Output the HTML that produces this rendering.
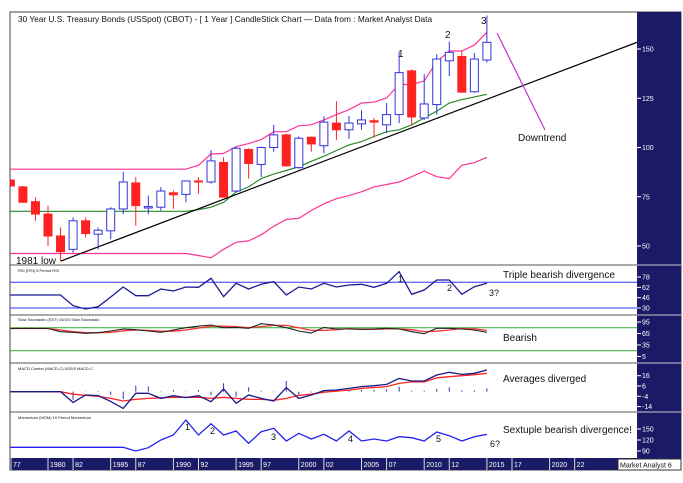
<!DOCTYPE html>
<html><head><meta charset="utf-8"><style>
html,body{margin:0;padding:0;background:#fff;}
svg{display:block;font-family:"Liberation Sans",sans-serif;}
</style></head><body>
<svg id="c" width="683" height="483" viewBox="0 0 683 483">
<rect x="10" y="12" width="671" height="458" fill="#fff" stroke="#444" stroke-width="1"/>
<rect x="637" y="12" width="44" height="446" fill="#1a1a66"/>
<rect x="10" y="458" width="671" height="12" fill="#1a1a66"/>
<g id="g"></g>
</svg>
<script>
const years=[1977,1978,1979,1980,1981,1982,1983,1984,1985,1986,1987,1988,1989,1990,1991,1992,1993,1994,1995,1996,1997,1998,1999,2000,2001,2002,2003,2004,2005,2006,2007,2008,2009,2010,2011,2012,2013,2014,2015];
const opens=[83.5,80,72.5,66.2,55.1,48.3,62.8,56,57.7,68.8,82,69.3,69.7,77,76.2,83,82.5,92.4,77.9,99,91.4,100,106.4,89.8,105.2,100.9,112.4,109,112,113.6,111.5,116.7,138.9,115,121.8,144,146.2,128.3,144.4];
const closes=[80.5,72.2,66.2,55.1,47.1,62.8,56.3,58,68.8,82.5,70.5,70,77.9,76,83,82.5,93.2,74.8,99.6,91.9,100,106.4,90.7,104.7,101.8,112.9,109,112.4,114,112.9,116.7,138,115.5,122.1,144.9,148.3,128.1,144.9,153.4];
const highs=[84,80.5,74.8,70.5,59.4,64.5,64.5,59.4,69.7,87.6,85,75.6,79.9,78.2,83.3,85,98.7,95,100.4,99.6,100.4,111.5,107,105.6,105.6,115.8,123.5,116,119,115,122.6,148.3,139.7,137.2,147.4,153.8,149.1,148,167];
const lows=[80,72,62.8,50,42.3,46.6,54.3,48.3,53.4,66.2,60.3,66.2,68,68.8,72.2,76.5,81.6,74.8,77.4,84.2,85,97.9,90.2,89.2,97.9,97,103.8,104.5,109,105,107.3,112.4,111.5,114,116.7,136.3,127.8,127.8,143.2];
const upperBand=[89,89,89,89,89,89,89,89,89,89,89,89,89,89,89,91,96.7,97,100.4,102,104,108,108,111,111.5,114,116.7,119.2,122.6,123,125.2,132,132,133.8,143.5,149,149,152,158.5];
const lowerBand=[46.2,46.2,46.2,46.2,46.2,46.2,46.2,46.2,46.2,46.2,46.2,46.2,46.2,46.2,46.2,45.2,44,48.3,51.9,52.6,55.7,60,63.5,64,68,71.4,74,75.6,77.5,80,81.2,82.5,85.2,88,85.2,84.2,91,92.3,95];
const maLine=[67.6,67.6,67.6,67.6,67.6,67.6,67.6,67.6,67.6,67.6,67.6,67.6,67.6,67.6,67.6,68.5,69.7,72.2,77.4,80,84.2,86.5,88.3,90.2,93,95.6,98.5,101.3,103,105.6,108,109,111.5,115,118.5,122.6,124.3,125.7,127];
const rsi=[50.2,50.2,50.2,50.2,50.2,33.6,28.4,32,47,62.6,49.1,49.1,59.5,56.4,62.6,62.1,76,47.6,68.3,59.5,66.7,71,50.2,62.6,59.5,68.3,62.6,65.7,66.7,62.1,68.3,86.3,51.2,57.9,73.4,73.4,51.2,63,68.3];
const stochK=[78,78,78,78,69.8,68,65.4,67,71.5,76.7,75,71.5,68,74,80.2,84,87.2,80.2,81,78.5,90.6,87.2,80.2,71.5,66.3,81,76.7,76.7,75.9,76.7,78.5,76.7,69.8,64.5,78.5,78.5,76.7,74,68];
const stochD=[78,78,78,78,74,70,67,67,68,72,74,73,71,71,74,79,84,84,83,80,83,86,86,80,73,73,75,78,76,76,77,77,75,70,71,74,78,77,73];
const macd=[0.5,0.5,0.5,0.5,0.5,-9.9,-2.7,-3.4,-9,-15.7,-1.1,-1.1,-6,-3.4,-5.3,-3.4,-9.2,3.1,-10.8,-2.7,-6,-8.6,4.4,-6,-2.7,1.5,2.1,3.7,5.4,6.3,7.6,13.4,10.9,10.9,16.7,19.3,17.3,18.3,21.5];
const macdSignal=[0.5,0.5,0.5,0.5,0.5,-2,-3,-4,-6,-8.6,-7,-6,-5.5,-5,-5,-5,-6,-5,-6,-7,-7,-8,-6,-3.1,-2,0,1,2,3.7,4.5,5.4,8.5,10,10,14,15,16,17,18.3];
const momentum=[100,100,100,100,100,100,100,100,100,100,90,99.1,120,133.6,174.5,133.6,164.5,133.6,144.5,111,142.7,151.8,117.3,138.2,122.7,135.4,117.3,144.5,117.3,122.7,117.3,129,126.4,117.3,141.8,131.8,117.3,129,135.4];
const priceTicks=[150,125,100,75,50];
const rsiTicks=[78,62,46,30];
const stochTicks=[95,65,35,5];
const macdTicks=[16,6,-4,-14];
const momTicks=[150,120,90];
const xLabels=[["77",1977],["1980",1980],["82",1982],["1985",1985],["87",1987],["1990",1990],["92",1992],["1995",1995],["97",1997],["2000",2000],["02",2002],["2005",2005],["07",2007],["2010",2010],["12",2012],["2015",2015],["17",2017],["2020",2020],["22",2022]];

const NS="http://www.w3.org/2000/svg";
const G=document.getElementById('g');
function mk(tag,at,par){const e=document.createElementNS(NS,tag);for(const k in at)e.setAttribute(k,at[k]);(par||G).appendChild(e);return e;}
const X=y=>48+(y-1980)*12.54;
const YP=v=>49+(150-v)*1.97;
const YR=v=>308-(v-30)*0.645;
const YS=v=>322+(95-v)*0.383;
const YM=v=>386-(v-6)*1.03;
const YO=v=>440-(v-120)*0.367;
function clipRect(id,y0,y1){const d=mk('clipPath',{id:id});mk('rect',{x:10,y:y0,width:627,height:y1-y0},d);}
clipRect('cp',12,265);clipRect('cr',265,315);clipRect('cs',315,363);clipRect('cm',363,412);clipRect('co',412,458);
function line(arr,fy,col,w,clip,name){const p=arr.map((v,i)=>X(years[i]).toFixed(1)+','+fy(v).toFixed(1)).join(' ');
 const e=mk('polyline',{points:p,fill:'none',stroke:col,'stroke-width':w,'clip-path':'url(#'+clip+')'});
 
 return e;}
function txt(s,x,y,sz,col,name,extra){const t=mk('text',Object.assign({x:x,y:y,'font-size':sz,fill:col},extra||{}));t.textContent=s;
 
 return t;}

[265,315,363,412].forEach(y=>{const l=mk('line',{x1:10,x2:681,y1:y,y2:y,stroke:'#555','stroke-width':1});
 
 });

line(upperBand,YP,'#ff3399',1.2,'cp','upper-band');
line(lowerBand,YP,'#ff3399',1.2,'cp','lower-band');
line(maLine,YP,'#2a8a2a',1.2,'cp','moving-average');
const tl=mk('line',{x1:X(1981),y1:YP(42.3),x2:637,y2:YP(153.4),stroke:'#000','stroke-width':1.2});


const dl=mk('line',{x1:497,y1:33,x2:545,y2:130,stroke:'#cc33cc','stroke-width':1.2});



years.forEach((yr,i)=>{const x=X(yr),up=closes[i]>=opens[i],col=up?'#3333dd':'#ff2222';
 const g=mk('g',{'clip-path':'url(#cp)'});
 
 
 mk('line',{x1:x,x2:x,y1:YP(highs[i]),y2:YP(lows[i]),stroke:col,'stroke-width':1},g);
 const t=YP(Math.max(opens[i],closes[i])),b=YP(Math.min(opens[i],closes[i]));
 mk('rect',{x:x-4,y:t,width:8,height:Math.max(1,b-t),fill:up?'#fff':'#ff2222',stroke:col,'stroke-width':1},g);});

[70,30].forEach(v=>{const l=mk('line',{x1:10,x2:637,y1:YR(v),y2:YR(v),stroke:'#3333ee','stroke-width':1});
 
 });
line(rsi,YR,'#1a1a99',1.3,'cr','rsi-line');
[80,20].forEach(v=>{const l=mk('line',{x1:10,x2:637,y1:YS(v),y2:YS(v),stroke:'#33aa33','stroke-width':1});
 
 });
line(stochD,YS,'#ff3333',1.3,'cs','stoch-d-line');
line(stochK,YS,'#222',1.1,'cs','stoch-k-line');
years.forEach((yr,i)=>{if(yr<1982)return;const h=macd[i]-macdSignal[i];
 const l=mk('line',{x1:X(yr),x2:X(yr),y1:YM(0.5),y2:YM(0.5)+(h>0?-1:1)*Math.min(Math.abs(h)*1.03,14),stroke:'#3333aa','stroke-width':1});
 
 });
line(macdSignal,YM,'#ff2222',1.3,'cm','macd-signal-line');
line(macd,YM,'#1a1a88',1.3,'cm','macd-line');
line(momentum,YO,'#2222ee',1.3,'co','momentum-line');

function ticks(arr,fy,pre){arr.forEach(v=>{const y=fy(v);mk('line',{x1:637,x2:641,y1:y,y2:y,stroke:'#fff','stroke-width':1});
 txt(String(v),642,y+2.5,7,'#fff',pre+'-tick-'+v);});}
ticks(priceTicks,YP,'price');ticks(rsiTicks,YR,'rsi');ticks(stochTicks,YS,'stoch');ticks(macdTicks,YM,'macd');ticks(momTicks,YO,'momentum');
[265,315,363,412].forEach(y=>mk('line',{x1:637,x2:681,y1:y,y2:y,stroke:'#ccc','stroke-width':1}));

xLabels.forEach(([s,yr])=>{const x=Math.max(11,X(yr));mk('line',{x1:x,x2:x,y1:458,y2:470,stroke:'#ddd','stroke-width':1});
 txt(s,x+2,467,7,'#fff','x-label-'+s);});
const ma=mk('rect',{x:618,y:459,width:63,height:11,fill:'#fff',stroke:'#333'});


txt('Market Analyst 6',620,467.5,7,'#111','market-analyst-label');

txt('30 Year U.S. Treasury Bonds (USSpot) (CBOT) -  [ 1 Year ] CandleStick Chart — Data from : Market Analyst Data',18,22,8.3,'#111','chart-title');
txt('1',398,57,10,'#111','peak-label-1');txt('2',445,38,10,'#111','peak-label-2');txt('3',481,24,10,'#111','peak-label-3');
txt('Downtrend',518,141,10,'#111','downtrend-label');
txt('1981 low',16,264,10,'#111','low-1981-label');
txt('RSI (RSI) 5 Period RSI',18,272,4,'#111','rsi-title');
txt('Slow Stochastic (SST) 10/3/3 Slow Stochastic',18,321,4,'#111','stoch-title');
txt('MACD Combo (MACD-C) 5/25/5 MACD-C',18,370,4,'#111','macd-title');
txt('Momentum (MOM) 10 Period Momentum',18,419,4,'#111','momentum-title');
txt('Triple bearish divergence',503,278,10,'#111','rsi-annotation');
txt('1',398,282,9,'#111','rsi-label-1');txt('2',447,291,9,'#111','rsi-label-2');txt('3?',489,296,9,'#111','rsi-label-3');
txt('Bearish',503,341,10,'#111','stoch-annotation');
txt('Averages diverged',503,382,10,'#111','macd-annotation');
txt('Sextuple bearish divergence!',503,433,10,'#111','momentum-annotation');
[['1',185,430],['2',210,434],['3',271,440],['4',348,442],['5',436,442],['6?',490,447]].forEach(([s,x,y])=>txt(s,x,y,9,'#111','momentum-label-'+s));
</script>
</body></html>
